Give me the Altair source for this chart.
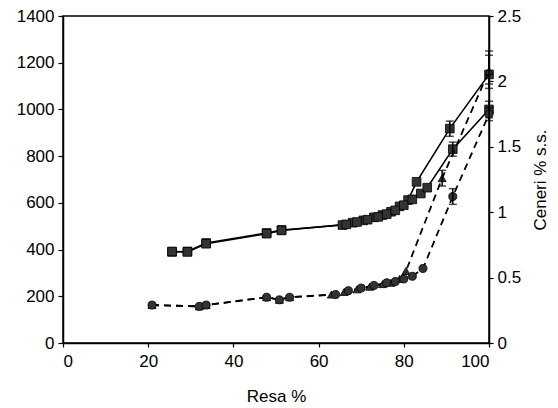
import altair as alt
import pandas as pd

# Solid series (left axis)
sa_x = [25.6, 29.2, 33.6, 47.8, 51.3, 65.6, 68, 70.5, 73, 75, 77, 79, 81, 83, 90.8, 100]
sa_y = [390, 392, 428, 471, 484, 505, 515, 525, 538, 548, 562, 585, 612, 690, 918, 1150]
sb_x = [25.6, 29.2, 33.6, 47.8, 51.3, 66.5, 69, 71.5, 74, 76, 78, 80, 82, 84, 85.5, 91.5, 100]
sb_y = [392, 390, 425, 468, 482, 508, 518, 528, 540, 552, 568, 590, 615, 640, 665, 830, 1000]

# Dashed series (right axis, Ceneri % s.s.)
da_x = [20.9, 32, 33.6, 47.8, 50.8, 53.2, 63, 66, 69, 72, 75, 77, 79, 80.5, 89, 100]
da_y = [0.29, 0.28, 0.29, 0.35, 0.33, 0.35, 0.37, 0.39, 0.41, 0.43, 0.45, 0.46, 0.49, 0.55, 1.26, 2.08]
db_x = [20.9, 32, 33.6, 47.8, 50.8, 53.2, 64, 67, 70, 73, 76, 78, 80, 82, 84.5, 91.5, 100]
db_y = [0.29, 0.28, 0.29, 0.35, 0.33, 0.35, 0.37, 0.40, 0.42, 0.44, 0.46, 0.47, 0.49, 0.51, 0.57, 1.12, 1.75]

# Error bars
el_series = ["A", "A", "B", "B"]
el_x = [100, 90.8, 100, 91.5]
el_lo = [1090, 885, 965, 800]
el_hi = [1250, 950, 1035, 860]
er_series = ["A", "A", "B", "B"]
er_x = [100, 89, 100, 91.5]
er_lo = [1.98, 1.2, 1.7, 1.06]
er_hi = [2.2, 1.32, 1.8, 1.18]

left_df = pd.concat([
    pd.DataFrame({"x": sa_x, "y": sa_y, "s": "A"}),
    pd.DataFrame({"x": sb_x, "y": sb_y, "s": "B"}),
])
right_df = pd.concat([
    pd.DataFrame({"x": da_x, "y": da_y, "s": "A"}),
    pd.DataFrame({"x": db_x, "y": db_y, "s": "B"}),
])
el_df = pd.DataFrame({"x": el_x, "lo": el_lo, "hi": el_hi, "s": el_series})
er_df = pd.DataFrame({"x": er_x, "lo": er_lo, "hi": er_hi, "s": er_series})

FONT = "Liberation Sans"

xenc = alt.X("x:Q", scale=alt.Scale(domain=[0, 100], nice=False),
             axis=alt.Axis(values=[0, 20, 40, 60, 80, 100], title="Resa %", grid=False,
                           tickSize=4, labelPadding=6, titlePadding=19))
yleft_axis = alt.Axis(values=[0, 200, 400, 600, 800, 1000, 1200, 1400], title=None, grid=False,
                      format="d", tickSize=5, labelPadding=4, orient="left")
yleft_scale = alt.Scale(domain=[0, 1400], nice=False)
yright_axis = alt.Axis(values=[0, 0.5, 1, 1.5, 2, 2.5], title="Ceneri % s.s.", grid=False,
                       orient="right", tickSize=4, labelPadding=4,
                       labelExpr="'' + datum.value", titleAngle=270, titlePadding=29)
yright_scale = alt.Scale(domain=[0, 2.5], nice=False)

base_l = alt.Chart(left_df)
l_line = base_l.mark_line(color="black", strokeWidth=1.6).encode(
    x=xenc, y=alt.Y("y:Q", scale=yleft_scale, axis=yleft_axis), detail="s:N")
l_pts = base_l.mark_point(shape="square", filled=True, color="#333333", size=75,
                          stroke="black", strokeWidth=0.8, opacity=1).encode(
    x=xenc, y=alt.Y("y:Q", scale=yleft_scale, axis=yleft_axis))
l_err = alt.Chart(el_df).mark_rule(color="black", strokeWidth=1.5).encode(
    x=xenc, y=alt.Y("lo:Q", scale=yleft_scale, axis=yleft_axis), y2="hi:Q")
l_cap1 = alt.Chart(el_df).mark_tick(orient="horizontal", color="black", size=8, thickness=1.5).encode(
    x=xenc, y=alt.Y("lo:Q", scale=yleft_scale, axis=yleft_axis))
l_cap2 = alt.Chart(el_df).mark_tick(orient="horizontal", color="black", size=8, thickness=1.5).encode(
    x=xenc, y=alt.Y("hi:Q", scale=yleft_scale, axis=yleft_axis))
left = alt.layer(l_line, l_pts, l_err, l_cap1, l_cap2)

base_r = alt.Chart(right_df)
r_line = base_r.mark_line(color="black", strokeWidth=1.8, strokeDash=[7, 5]).encode(
    x=xenc, y=alt.Y("y:Q", scale=yright_scale, axis=yright_axis), detail="s:N")
r_pts = base_r.mark_point(filled=True, color="#333333", size=65, opacity=1,
                          stroke="black", strokeWidth=0.8).encode(
    x=xenc, y=alt.Y("y:Q", scale=yright_scale, axis=yright_axis),
    shape=alt.Shape("s:N", scale=alt.Scale(domain=["A", "B"], range=["triangle-up", "circle"]), legend=None))
r_err = alt.Chart(er_df).mark_rule(color="black", strokeWidth=1.5).encode(
    x=xenc, y=alt.Y("lo:Q", scale=yright_scale, axis=yright_axis), y2="hi:Q")
r_cap1 = alt.Chart(er_df).mark_tick(orient="horizontal", color="black", size=8, thickness=1.5).encode(
    x=xenc, y=alt.Y("lo:Q", scale=yright_scale, axis=yright_axis))
r_cap2 = alt.Chart(er_df).mark_tick(orient="horizontal", color="black", size=8, thickness=1.5).encode(
    x=xenc, y=alt.Y("hi:Q", scale=yright_scale, axis=yright_axis))
right = alt.layer(r_line, r_pts, r_err, r_cap1, r_cap2)

chart = alt.layer(left, right).resolve_scale(y="independent").properties(
    width=426, height=327,
    background="white",
    autosize=alt.AutoSizeParams(type="none"),
    padding={"left": 55, "top": 8, "right": 61, "bottom": 62},
).configure_view(stroke="black", strokeWidth=1.5).configure_axis(
    grid=False, domainColor="black", domainWidth=1.5, tickColor="black", tickWidth=1.2,
    labelFont=FONT, titleFont=FONT, labelFontSize=17, titleFontSize=17,
    labelColor="black", titleColor="black", titleFontWeight="normal",
)

chart.save("out.html", embed_options={"renderer": "svg", "actions": False})
